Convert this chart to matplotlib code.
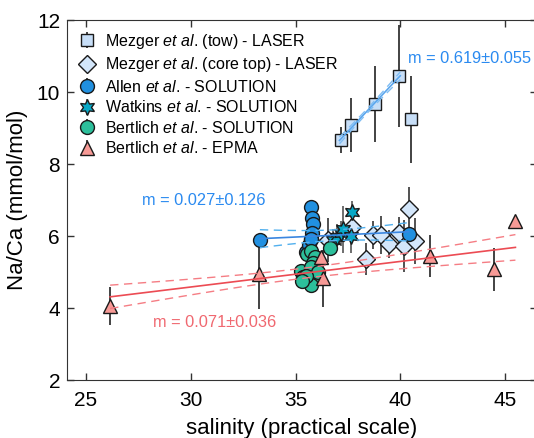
import numpy as np
import matplotlib
matplotlib.use('Agg')
import matplotlib.pyplot as plt

plt.rcParams['font.family'] = 'Liberation Sans'
plt.rcParams['mathtext.fontset'] = 'custom'
plt.rcParams['mathtext.rm'] = 'Liberation Sans'
plt.rcParams['mathtext.it'] = 'Liberation Sans:italic'

# data
tow_x = [37.17, 37.65, 38.78, 39.96, 40.5]
tow_y = [8.67, 9.07, 9.67, 10.44, 9.24]
tow_err = [0.36, 0.75, 1.05, 1.42, 1.2]

core_x = [36.57, 37.68, 38.37, 38.68, 39.08, 39.48, 39.96, 40.2, 40.42, 40.7]
core_y = [5.89, 6.26, 5.36, 6.03, 6.03, 5.78, 6.09, 5.72, 6.75, 5.86]
core_err = [0.6, 0.4, 0.45, 0.4, 0.53, 0.4, 0.45, 0.73, 0.6, 0.64]

allen_x = [33.3, 35.49, 35.64, 35.74, 35.74, 35.77, 35.82, 35.77, 35.74, 40.43]
allen_y = [5.89, 5.56, 5.75, 5.91, 6.81, 6.49, 6.33, 6.09, 5.91, 6.06]
allen_err = [0.05] * len(allen_x)

watk_x = [36.8, 36.97, 37.17, 37.28, 37.65, 37.71]
watk_y = [5.89, 5.98, 6.07, 6.19, 6.0, 6.68]
watk_err = [0.3, 0.35, 0.35, 0.65, 0.47, 0.3]

bsol_x = [35.26, 35.37, 35.53, 35.74, 35.93, 35.85, 35.74, 35.9, 35.74, 36.09, 35.5, 36.65, 35.3]
bsol_y = [5.04, 4.87, 5.5, 5.59, 5.41, 5.26, 5.13, 4.82, 4.64, 5.01, 4.9, 5.68, 4.75]
bsol_err = [0.15, 0.15, 0.15, 0.15, 0.15, 0.15, 0.15, 0.15, 0.2, 0.15, 0.15, 0.15, 0.15]

epma_x = [26.15, 33.27, 36.22, 36.33, 41.42, 44.49, 45.49]
epma_y = [4.06, 4.94, 5.41, 4.82, 5.44, 5.07, 6.42]
epma_err = [0.52, 0.97, 0.15, 0.8, 0.58, 0.61, 0.0]

# fits: slope, intercept at x0, x0, x range, band params (centre half-width, growth)
fit_tow = dict(m=0.619, se=0.055, x0=38.4, y0=9.46, xr=(37.1, 40.0), c=0.06, k=0.055)
fit_allen = dict(m=0.027, se=0.126, x0=36.8, y0=6.02, xr=(33.3, 40.4), c=0.15, k=0.057)
fit_epma = dict(m=0.071, se=0.036, x0=26.15, y0=4.31, xr=(26.15, 45.5), c=0.14, k=0.032, xm=35.3)

fig = plt.figure(figsize=(5.34, 4.38), dpi=100)
ax = fig.add_axes([67 / 534, 58 / 438, 470 / 534, 360 / 438])

ekw = dict(ls='none', capsize=0, elinewidth=1.2, ecolor='#222222', mec='#1a1a1a', mew=1.0)
ax.errorbar(tow_x, tow_y, yerr=tow_err, fmt='s', ms=8.5, mfc='#c7def7',
            label=r'Mezger $\mathit{et\ al}$. (tow) - LASER', **ekw)
ax.errorbar(core_x, core_y, yerr=core_err, fmt='D', ms=9.5, mfc='#d3e6fa',
            label=r'Mezger $\mathit{et\ al}$. (core top) - LASER', **dict(ekw, ecolor='#333333'))
ax.errorbar(allen_x, allen_y, yerr=allen_err, fmt='o', ms=10, mfc='#2190e0',
            label=r'Allen $\mathit{et\ al}$. - SOLUTION', **ekw)
ax.errorbar(watk_x, watk_y, yerr=watk_err, fmt='', marker=(6, 1, 0), ms=11.5, mfc='#08a8c6',
            label=r'Watkins $\mathit{et\ al}$. - SOLUTION', **dict(ekw, ecolor='#555555'))
ax.errorbar(bsol_x, bsol_y, yerr=bsol_err, fmt='o', ms=10, mfc='#2cbf9b',
            label=r'Bertlich $\mathit{et\ al}$. - SOLUTION', **ekw)
ax.errorbar(epma_x, epma_y, yerr=epma_err, fmt='^', ms=10, mfc='#f79a96',
            label=r'Bertlich $\mathit{et\ al}$. - EPMA', **ekw)


def draw_fit(f, col, dcol):
    xs = np.linspace(f['xr'][0], f['xr'][1], 100)
    ys = f['y0'] + f['m'] * (xs - f['x0'])
    xm = f.get('xm', f['x0'])
    hw = np.sqrt(f['c'] ** 2 + (f['k'] * (xs - xm)) ** 2)
    ax.plot(xs, ys, color=col, lw=1.2, zorder=5)
    ax.plot(xs, ys + hw, color=dcol, lw=1.0, dashes=(6, 4), zorder=5)
    ax.plot(xs, ys - hw, color=dcol, lw=1.0, dashes=(6, 4), zorder=5)


draw_fit(fit_tow, '#5aa6ee', '#7fbdf3')
draw_fit(fit_allen, '#3a86e0', '#52b0ee')
draw_fit(fit_epma, '#ec4b53', '#f57d84')

ax.text(46.25, 10.93, 'm = %.3f\u00b1%.3f' % (fit_tow['m'], fit_tow['se']),
        color='#2a8af0', fontsize=11.8, ha='right', va='center')
ax.text(30.63, 6.98, 'm = %.3f\u00b1%.3f' % (fit_allen['m'], fit_allen['se']),
        color='#2a8af0', fontsize=11.8, ha='center', va='center')
ax.text(31.16, 3.59, 'm = %.3f\u00b1%.3f' % (fit_epma['m'], fit_epma['se']),
        color='#f06870', fontsize=11.8, ha='center', va='center')

ax.set_xlim(24.09, 46.53)
ax.set_ylim(2, 12)
ax.set_xticks([25, 30, 35, 40, 45])
ax.set_yticks([2, 4, 6, 8, 10, 12])
ax.tick_params(direction='in', top=True, right=True, length=5, width=1,
               labelsize=15, color='#333333')
ax.tick_params(axis='x', pad=8)
ax.tick_params(axis='y', pad=5)
for s in ax.spines.values():
    s.set_color('#333333')
ax.set_xlabel('salinity (practical scale)', fontsize=16, labelpad=6)
ax.set_ylabel('Na/Ca (mmol/mol)', fontsize=16, labelpad=6)

ax.legend(loc='upper left', frameon=False, fontsize=11.5, handlelength=1.0,
          handletextpad=0.6, labelspacing=0.28, borderaxespad=0.45, borderpad=0.3)

fig.savefig('out.png', dpi=100)
